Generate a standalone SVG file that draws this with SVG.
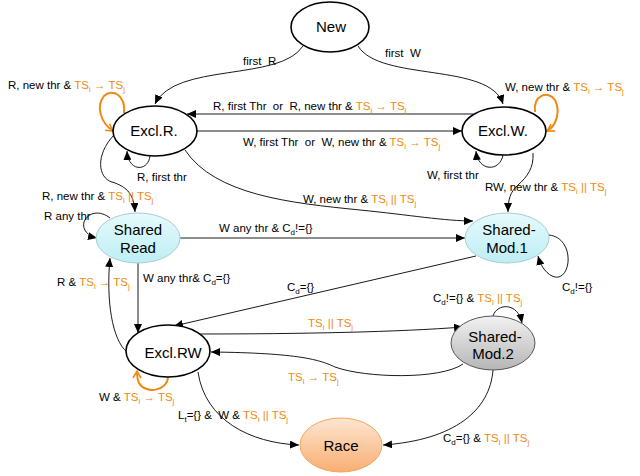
<svg xmlns="http://www.w3.org/2000/svg" width="640" height="476" viewBox="0 0 640 476">
<style>
text{font-family:"Liberation Sans",Arial,sans-serif;white-space:pre}
.n{font-size:15px;fill:#000;text-anchor:middle}
.l{font-size:11.5px;fill:#000}
.o{fill:#EE8A12}
.s{font-size:8px}
.e{fill:none;stroke:#000;stroke-width:0.9;marker-end:url(#a)}
.oe{fill:none;stroke:#EE8A12;stroke-width:2;marker-end:url(#ao)}
.st{stroke:#000;stroke-width:1.6;fill:#fff}
</style>
<defs>
<marker id="a" markerUnits="userSpaceOnUse" markerWidth="10" markerHeight="8" refX="9" refY="4" orient="auto"><path d="M0,0 L9,4 L0,8 z" fill="#000"/></marker>
<marker id="ao" markerUnits="userSpaceOnUse" markerWidth="10" markerHeight="10" refX="8" refY="5" orient="auto"><path d="M1,1 L8,5 L1,9" fill="none" stroke="#EE8A12" stroke-width="1.6"/></marker>
<linearGradient id="gc" x1="0" y1="0" x2="0" y2="1"><stop offset="0" stop-color="#E6FAFC"/><stop offset="1" stop-color="#BDEEF4"/></linearGradient>
<linearGradient id="gg" x1="0" y1="0" x2="0" y2="1"><stop offset="0" stop-color="#F2F2F2"/><stop offset="1" stop-color="#B5B5B5"/></linearGradient>
<linearGradient id="go" x1="0" y1="0" x2="0" y2="1"><stop offset="0" stop-color="#FDE6D2"/><stop offset="1" stop-color="#F9AE72"/></linearGradient>
</defs>

<g id="connectors">
<path class="e" d="M 303 46 C 280 82, 175 62, 155 104"/>
<path class="e" d="M 358 46 C 380 82, 490 62, 503 104"/>
<path class="e" d="M 473 114 L 187 114"/>
<path class="e" d="M 197 131 L 462 131"/>
<path class="oe" d="M 124 113 C 126 95, 112 88, 104 96 C 96 106, 100 122, 113 131"/>
<path class="e" d="M 150 156 C 148 172, 128 172, 127 151"/>
<path class="e" d="M 114 135 C 95 155, 98 178, 112 182 C 128 187, 134 195, 135 212"/>
<path class="e" d="M 110 218 C 100 210, 88 212, 84 222 C 82 230, 88 236, 97 238"/>
<path class="e" d="M 185 150 C 215 195, 290 203, 360 210 C 410 215, 445 221, 473 221"/>
<path class="oe" d="M 535 112 C 533 95, 548 90, 555 100 C 561 112, 556 126, 547 131"/>
<path class="e" d="M 503 155 C 500 172, 478 172, 476 151"/>
<path class="e" d="M 533 153 C 534 168, 527 177, 518 185 C 510 192, 508 200, 508 212"/>
<path class="e" d="M 180 238 L 465 238"/>
<path class="e" d="M 549 235 C 575 238, 572 280, 555 277 C 547 275, 541 267, 538 256"/>
<path class="e" d="M 476 256 L 174 326"/>
<path class="e" d="M 138 263 L 138 333"/>
<path class="e" d="M 127 352 C 112 340, 106 300, 110 258"/>
<path class="oe" d="M 168 376 C 168 392, 145 394, 139 383 C 137 379, 137 376, 137 371"/>
<path class="e" d="M 198 334 C 300 334, 400 332, 463 327"/>
<path class="e" d="M 463 364 C 440 380, 365 378, 335 367 C 320 360, 300 353, 211 352"/>
<path class="e" d="M 493 316 C 497 303, 518 302, 522 323"/>
<path class="e" d="M 198 372 C 205 420, 250 443, 299 445"/>
<path class="e" d="M 493 370 C 490 410, 455 440, 383 445"/>
</g>

<g id="labels">
<text class="l" x="243" y="65">first  R</text>
<text class="l" x="385" y="57">first  W</text>
<text class="l" x="213" y="110">R, first Thr  or  R, new thr &amp; <tspan class="o">TS<tspan class="s" dy="3">i</tspan><tspan dy="-3"> → TS</tspan><tspan class="s" dy="3">j</tspan></tspan></text>
<text class="l" x="243" y="146">W, first Thr  or  W, new thr &amp; <tspan class="o">TS<tspan class="s" dy="3">i</tspan><tspan dy="-3"> → TS</tspan><tspan class="s" dy="3">j</tspan></tspan></text>
<text class="l" x="8" y="89">R, new thr &amp; <tspan class="o">TS<tspan class="s" dy="3">i</tspan><tspan dy="-3"> → TS</tspan><tspan class="s" dy="3">j</tspan></tspan></text>
<text class="l" x="137" y="181">R, first thr</text>
<text class="l" x="42" y="200">R, new thr &amp; <tspan class="o">TS<tspan class="s" dy="3">i</tspan><tspan dy="-3"> || TS</tspan><tspan class="s" dy="3">j</tspan></tspan></text>
<text class="l" x="44" y="220">R any thr</text>
<text class="l" x="303" y="203">W, new thr &amp; <tspan class="o">TS<tspan class="s" dy="3">i</tspan><tspan dy="-3"> || TS</tspan><tspan class="s" dy="3">j</tspan></tspan></text>
<text class="l" x="505" y="91">W, new thr &amp; <tspan class="o">TS<tspan class="s" dy="3">i</tspan><tspan dy="-3"> → TS</tspan><tspan class="s" dy="3">j</tspan></tspan></text>
<text class="l" x="427" y="179">W, first thr</text>
<text class="l" x="485" y="191">RW, new thr &amp; <tspan class="o">TS<tspan class="s" dy="3">i</tspan><tspan dy="-3"> || TS</tspan><tspan class="s" dy="3">j</tspan></tspan></text>
<text class="l" x="219" y="232">W any thr &amp; C<tspan class="s" dy="3">d</tspan><tspan dy="-3">!={}</tspan></text>
<text class="l" x="562" y="291">C<tspan class="s" dy="3">d</tspan><tspan dy="-3">!={}</tspan></text>
<text class="l" x="287" y="291">C<tspan class="s" dy="3">d</tspan><tspan dy="-3">={}</tspan></text>
<text class="l" x="143" y="282">W any thr&amp; C<tspan class="s" dy="3">d</tspan><tspan dy="-3">={}</tspan></text>
<text class="l" x="57" y="286">R &amp; <tspan class="o">TS<tspan class="s" dy="3">i</tspan><tspan dy="-3"> → TS</tspan><tspan class="s" dy="3">j</tspan></tspan></text>
<text class="l" x="99" y="401">W &amp; <tspan class="o">TS<tspan class="s" dy="3">i</tspan><tspan dy="-3"> → TS</tspan><tspan class="s" dy="3">j</tspan></tspan></text>
<text class="l o" x="308" y="327">TS<tspan class="s" dy="3">i</tspan><tspan dy="-3"> || TS</tspan><tspan class="s" dy="3">j</tspan></text>
<text class="l o" x="288" y="381">TS<tspan class="s" dy="3">i</tspan><tspan dy="-3"> → TS</tspan><tspan class="s" dy="3">j</tspan></text>
<text class="l" x="433" y="302">C<tspan class="s" dy="3">d</tspan><tspan dy="-3">!={} &amp; </tspan><tspan class="o">TS<tspan class="s" dy="3">i</tspan><tspan dy="-3"> || TS</tspan><tspan class="s" dy="3">j</tspan></tspan></text>
<text class="l" x="178" y="419">L<tspan class="s" dy="3">t</tspan><tspan dy="-3">={} &amp;  W &amp; </tspan><tspan class="o">TS<tspan class="s" dy="3">i</tspan><tspan dy="-3"> || TS</tspan><tspan class="s" dy="3">j</tspan></tspan></text>
<text class="l" x="443" y="442">C<tspan class="s" dy="3">d</tspan><tspan dy="-3">={} &amp; </tspan><tspan class="o">TS<tspan class="s" dy="3">i</tspan><tspan dy="-3"> || TS</tspan><tspan class="s" dy="3">j</tspan></tspan></text>
</g>

<g id="node-new"><ellipse class="st" cx="330" cy="27" rx="39" ry="25" stroke-width="1"/><text class="n" x="331" y="32">New</text></g>
<g id="node-exclr"><ellipse class="st" cx="155" cy="131" rx="42" ry="25"/><text class="n" x="154" y="136">Excl.R.</text></g>
<g id="node-exclw"><ellipse class="st" cx="504" cy="131" rx="42" ry="24"/><text class="n" x="503" y="136">Excl.W.</text></g>
<g id="node-sharedread"><ellipse cx="138" cy="238" rx="42" ry="25" fill="url(#gc)" stroke="#A8CDD3" stroke-width="1"/><text class="n" x="138" y="235">Shared</text><text class="n" x="138" y="253">Read</text></g>
<g id="node-sharedmod1"><ellipse cx="507" cy="238" rx="42" ry="25" fill="url(#gc)" stroke="#A8CDD3" stroke-width="1"/><text class="n" x="509" y="235">Shared-</text><text class="n" x="507" y="253">Mod.1</text></g>
<g id="node-exclrw"><ellipse class="st" cx="168" cy="351" rx="42" ry="26"/><text class="n" x="173" y="358">Excl.RW</text></g>
<g id="node-sharedmod2"><ellipse cx="493" cy="343" rx="42" ry="27" fill="url(#gg)" stroke="#555" stroke-width="1"/><text class="n" x="495" y="342">Shared-</text><text class="n" x="493" y="359">Mod.2</text></g>
<g id="node-race"><ellipse cx="341" cy="445" rx="41" ry="27" fill="url(#go)" stroke="#F2A65A" stroke-width="1"/><text class="n" x="341" y="451">Race</text></g>
</svg>
